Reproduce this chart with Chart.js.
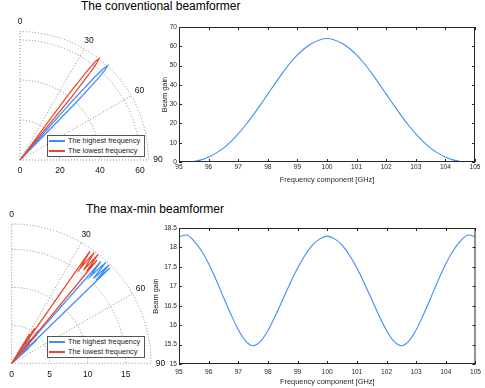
<!DOCTYPE html>
<html lang="en">
<head>
<meta charset="UTF-8">
<script src="https://cdn.jsdelivr.net/npm/chart.js"></script>
<title>Beamformer comparison</title>
<style>
  body { margin: 0; width: 485px; height: 388px; position: relative; overflow: hidden; background: #fff;
         font-family: "Liberation Sans", Arial, sans-serif; }
  canvas { position: absolute; }
  .title { position: absolute; font-size: 12px; line-height: 12px; color: #000; white-space: nowrap; }
  .legend { position: absolute; width: 96px; height: 20px; border: 1px solid #555; background: #fff; }
  .legend div { height: 10px; line-height: 10px; font-size: 7.3px; color: #222; white-space: nowrap; padding-left: 1px; }
  .legend i { display: inline-block; width: 16px; height: 1.3px; vertical-align: middle; margin-right: 3px; }
</style>
</head>
<body>
  <div class="title" style="left:81px; top:0px;">The conventional beamformer</div>
  <div class="title" style="left:86px; top:203px;">The max-min beamformer</div>

  <canvas id="polarTop" width="165" height="170" style="left:0; top:15px;"></canvas>
  <canvas id="gainTop" width="327" height="164" style="left:158px; top:20px;"></canvas>
  <canvas id="polarBottom" width="170" height="183" style="left:0; top:205px;"></canvas>
  <canvas id="gainBottom" width="335" height="166" style="left:150px; top:220px;"></canvas>

  <div class="legend" style="left:47px; top:135px;">
    <div><i style="background:#3E8EF7"></i>The highest frequency</div>
    <div><i style="background:#E8472B"></i>The lowest frequency</div>
  </div>
  <div class="legend" style="left:47px; top:336px;">
    <div><i style="background:#3E8EF7"></i>The highest frequency</div>
    <div><i style="background:#E8472B"></i>The lowest frequency</div>
  </div>

<script>
// frequency axis of the gain curves (GHz)
const freqGHz = [95, 95.25, 95.5, 95.75, 96, 96.25, 96.5, 96.75, 97, 97.25, 97.5, 97.75, 98, 98.25, 98.5, 98.75,
                 99, 99.25, 99.5, 99.75, 100, 100.25, 100.5, 100.75, 101, 101.25, 101.5, 101.75, 102, 102.25,
                 102.5, 102.75, 103, 103.25, 103.5, 103.75, 104, 104.25, 104.5, 104.75, 105];

// beam gain of the conventional beamformer
const convGain = [0, 0.05, 0.3, 1.1, 2.6, 4.6, 7.2, 10.6, 14.6, 19.2, 24.2, 29.6, 35.2, 40.8, 46.2, 51.2,
                  55.5, 59.0, 61.6, 63.3, 64.0, 63.3, 61.6, 59.0, 55.5, 51.2, 46.2, 40.8, 35.2, 29.6,
                  24.2, 19.2, 14.6, 10.6, 7.2, 4.6, 2.6, 1.1, 0.3, 0.05, 0];

// beam gain of the max-min beamformer
const maxminGain = [18.28, 18.32, 18.17, 17.92, 17.58, 17.17, 16.72, 16.28, 15.88, 15.59, 15.47, 15.58, 15.86, 16.24, 16.66, 17.08,
                    17.47, 17.80, 18.06, 18.22, 18.29, 18.22, 18.06, 17.80, 17.47, 17.08, 16.66, 16.24, 15.86, 15.58,
                    15.47, 15.59, 15.88, 16.28, 16.72, 17.17, 17.58, 17.92, 18.17, 18.32, 18.28];

// polar patterns: angle in degrees (0 = top, 90 = right) and gain
const convHighAngle = [42.9, 41.5, 42.0, 42.45, 42.9, 43.35, 43.8, 44.3, 42.9];
const convHighGain  = [0, 40, 56, 62, 64.2, 62, 56, 40, 0];
const convLowAngle  = [37.9, 36.5, 37.0, 37.45, 37.9, 38.35, 38.8, 39.3, 37.9];
const convLowGain   = [0, 40, 56, 62, 64.2, 62, 56, 40, 0];

const mmHighAngle = [39, 37.6, 38.4, 39.2, 40.0, 41.2, 42.1, 43.0, 43.9, 44.7, 45.4, 45.8, 46.4, 47.1, 47.9, 48.6, 49.3];
const mmHighGain  = [0, 4.0, 1.0, 5.5, 1.5, 17.8, 15.4, 18.2, 15.5, 18.2, 15.6, 18.0, 2.0, 4.5, 0.5, 3.0, 0];
const mmLowAngle  = [33, 31.5, 32.4, 33.2, 34.0, 34.9, 35.8, 36.7, 37.6, 38.4, 39.1, 39.6, 40.3, 41.0, 41.8, 42.5, 43.2];
const mmLowGain   = [0, 4.5, 1.0, 5.5, 1.5, 18.0, 15.3, 18.2, 15.5, 18.3, 15.6, 17.6, 2.5, 5.0, 1.0, 3.5, 0];

const BLUE = '#3E8EF7';
const RED = '#E8472B';
const FONT = 'Liberation Sans';

function toXY(angles, gains) {
  return angles.map((a, i) => ({
    x: gains[i] * Math.sin(a * Math.PI / 180),
    y: gains[i] * Math.cos(a * Math.PI / 180)
  }));
}

// dotted quarter-circle grid and labels for the polar plots
const polarGrid = {
  id: 'polarGrid',
  beforeDatasetsDraw(chart, args, opts) {
    const {ctx, scales: {x, y}} = chart;
    const cx = x.getPixelForValue(0), cy = y.getPixelForValue(0);
    const k = x.getPixelForValue(1) - cx;
    ctx.save();
    ctx.strokeStyle = '#6e6e6e';
    ctx.lineWidth = 0.8;
    ctx.setLineDash([1, 2]);
    opts.rings.concat([opts.rMax]).forEach(r => {
      ctx.beginPath();
      ctx.arc(cx, cy, r * k, -Math.PI / 2, 0);
      ctx.stroke();
    });
    [0, 30, 60, 90].forEach(a => {
      const t = a * Math.PI / 180;
      ctx.beginPath();
      ctx.moveTo(cx, cy);
      ctx.lineTo(cx + opts.rMax * k * Math.sin(t), cy - opts.rMax * k * Math.cos(t));
      ctx.stroke();
    });
    ctx.restore();
  },
  afterDraw(chart, args, opts) {
    const {ctx, scales: {x, y}} = chart;
    const cx = x.getPixelForValue(0), cy = y.getPixelForValue(0);
    const k = x.getPixelForValue(1) - cx;
    ctx.save();
    ctx.fillStyle = '#111';
    ctx.font = '8.5px "' + FONT + '"';
    ctx.textAlign = 'center';
    ctx.textBaseline = 'middle';
    const R = opts.rMax * k + 9.5;
    [0, 30, 60, 90].forEach(a => {
      const t = a * Math.PI / 180;
      ctx.fillText(String(a), cx + R * Math.sin(t), cy - R * Math.cos(t));
    });
    [0].concat(opts.rings).forEach(r => {
      ctx.fillText(String(r), cx + r * k, cy + 11);
    });
    ctx.restore();
  }
};

// box with inward ticks on all four sides
const framePlugin = {
  id: 'frame',
  afterDraw(chart) {
    const {ctx, chartArea: a, scales: {x, y}} = chart;
    ctx.save();
    ctx.strokeStyle = '#262626';
    ctx.lineWidth = 1;
    ctx.strokeRect(a.left + 0.5, a.top + 0.5, a.right - a.left - 1, a.bottom - a.top - 1);
    ctx.beginPath();
    x.ticks.forEach(t => {
      const px = Math.round(x.getPixelForValue(t.value)) + 0.5;
      ctx.moveTo(px, a.bottom); ctx.lineTo(px, a.bottom - 3);
      ctx.moveTo(px, a.top); ctx.lineTo(px, a.top + 3);
    });
    y.ticks.forEach(t => {
      const py = Math.round(y.getPixelForValue(t.value)) + 0.5;
      ctx.moveTo(a.left, py); ctx.lineTo(a.left + 3, py);
      ctx.moveTo(a.right, py); ctx.lineTo(a.right - 3, py);
    });
    ctx.stroke();
    ctx.restore();
  }
};

function polarChart(id, datasets, xr, yr, rings, rMax) {
  new Chart(document.getElementById(id), {
    type: 'scatter',
    data: { datasets: datasets },
    plugins: [polarGrid],
    options: {
      responsive: false,
      animation: false,
      events: [],
      layout: { padding: 0 },
      plugins: { legend: { display: false }, tooltip: { enabled: false }, polarGrid: { rings: rings, rMax: rMax } },
      scales: {
        x: { type: 'linear', display: false, min: xr[0], max: xr[1] },
        y: { type: 'linear', display: false, min: yr[0], max: yr[1] }
      }
    }
  });
}

function beam(angles, gains, color) {
  return {
    data: toXY(angles, gains),
    showLine: true,
    borderColor: color,
    borderWidth: 1.25,
    pointRadius: 0,
    tension: 0
  };
}

function gainChart(id, values, o) {
  const tickFont = { family: FONT, size: 6.6 };
  const titleFont = { family: FONT, size: 7.4 };
  new Chart(document.getElementById(id), {
    type: 'scatter',
    data: {
      datasets: [{
        data: freqGHz.map((f, i) => ({ x: f, y: values[i] })),
        showLine: true,
        borderColor: BLUE,
        borderWidth: 1.1,
        pointRadius: 0,
        cubicInterpolationMode: 'monotone'
      }]
    },
    plugins: [framePlugin],
    options: {
      responsive: false,
      animation: false,
      events: [],
      layout: { padding: { top: o.padTop, right: o.padRight, left: 0, bottom: 0 } },
      plugins: { legend: { display: false }, tooltip: { enabled: false } },
      scales: {
        x: {
          type: 'linear', min: 95, max: 105,
          ticks: { stepSize: 1, autoSkip: false, maxRotation: 0, padding: o.xPad, font: tickFont, color: '#262626' },
          grid: { display: false, drawTicks: false },
          border: { display: false },
          title: { display: true, text: 'Frequency component [GHz]', font: titleFont, color: '#262626', padding: 0 },
          afterFit: s => { s.height = 22; }
        },
        y: {
          type: 'linear', min: o.yMin, max: o.yMax,
          ticks: { stepSize: o.yStep, autoSkip: false, padding: 2, font: tickFont, color: '#262626',
                   callback: v => String(v) },
          grid: { display: false, drawTicks: false },
          border: { display: false },
          title: { display: true, text: 'Beam gain', font: titleFont, color: '#262626', padding: { top: o.titlePad, bottom: 0 } },
          afterFit: s => { s.width = o.yWidth; }
        }
      }
    }
  });
}

polarChart('polarTop',
  [beam(convLowAngle, convLowGain, RED), beam(convHighAngle, convHighGain, BLUE)],
  [-10, 72.5], [-12.5, 72.5], [20, 40, 60], 64.2);

polarChart('polarBottom',
  [beam(mmLowAngle, mmLowGain, RED), beam(mmHighAngle, mmHighGain, BLUE)],
  [-11.7 / 7.6, (170 - 11.7) / 7.6], [-(388 - 363.3) / 7.6, (363.3 - 205) / 7.6], [5, 10, 15], 18.33);

gainChart('gainTop', convGain, { padTop: 7, padRight: 10, yMin: 0, yMax: 70, yStep: 10, yWidth: 21, titlePad: 2.5, xPad: 1 });
gainChart('gainBottom', maxminGain, { padTop: 8, padRight: 8, yMin: 15, yMax: 18.5, yStep: 0.5, yWidth: 29, titlePad: 1.5, xPad: 4 });
</script>
</body>
</html>
